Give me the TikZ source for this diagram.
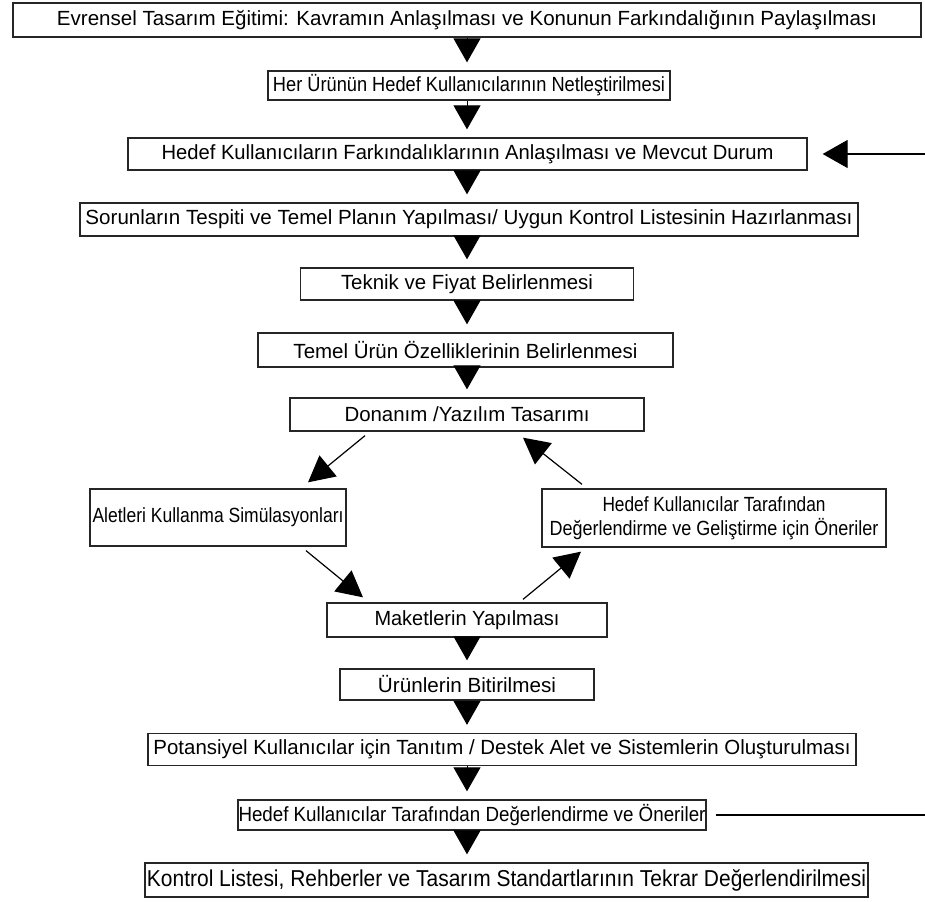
\documentclass[tikz,border=0pt]{standalone}
\usepackage{fontspec}
\setmainfont{Liberation Sans}
\usepackage{graphicx}
\usetikzlibrary{arrows.meta,calc}
\newcommand\fw[2]{\resizebox{#1pt}{\height}{#2}}
\begin{document}
\begin{tikzpicture}[x=1pt,y=-1pt,
  box/.style={draw=black!85, line width=1.3pt, fill=white, inner sep=0pt, align=center,
    font=\fontsize{20.5}{24}\selectfont},
  big/.style={font=\fontsize{23}{26}\selectfont},
  vtri/.style={-{Triangle[width=27pt,length=24pt]}, line width=1pt, shorten >=8pt},
  darr/.style={-{Triangle[width=27pt,length=26pt]}, line width=1.2pt},
  htri/.style={-{Triangle[width=28pt,length=25pt]}, line width=1.1pt, shorten >=15pt},
  plain/.style={line width=1.1pt}
]
\useasboundingbox (0,0) rectangle (925,901);
\fill[white] (0,0) rectangle (925,901);

\coordinate (axis) at (467,0);

\node[box, minimum width=908, minimum height=34] (b1) at (467,20)
  {\fw{820}{Evrensel Tasarım Eğitimi: Kavramın Anlaşılması ve Konunun Farkındalığının Paylaşılması}};
\node[box, minimum width=402, minimum height=29] (b2) at (469,85.5)
  {\fw{392}{Her Ürünün Hedef Kullanıcılarının Netleştirilmesi}};
\node[box, minimum width=679, minimum height=32] (b3) at (467.5,154)
  {\fw{612}{Hedef Kullanıcıların Farkındalıklarının Anlaşılması ve Mevcut Durum}};
\node[box, minimum width=778, minimum height=33] (b4) at (469,219.5)
  {\fw{767}{Sorunların Tespiti ve Temel Planın Yapılması/ Uygun Kontrol Listesinin Hazırlanması}};
\node[box, minimum width=333, minimum height=32] (b5) at (467,284)
  {\fw{252}{Teknik ve Fiyat Belirlenmesi}};
\node[box, minimum width=415, minimum height=34] (b6) at (465.5,350)
  {\fw{344}{Temel Ürün Özelliklerinin Belirlenmesi}};
\node[box, minimum width=354, minimum height=33] (b7) at (467,414.5)
  {\fw{245}{Donanım /Yazılım Tasarımı}};
\node[box, minimum width=256, minimum height=57] (b8) at (218,517.5)
  {\fw{251}{Aletleri Kullanma Simülasyonları}};
\node[box, minimum width=344, minimum height=58] (b9) at (714,518)
  {\fw{223}{Hedef Kullanıcılar Tarafından}\\\fw{329}{Değerlendirme ve Geliştirme için Öneriler}};
\node[box, minimum width=280, minimum height=34] (b10) at (467,620)
  {\fw{185}{Maketlerin Yapılması}};
\node[box, minimum width=254, minimum height=31] (b11) at (467,684.5)
  {\fw{178}{Ürünlerin Bitirilmesi}};
\node[box, minimum width=708, minimum height=32] (b12) at (502,749.5)
  {\fw{697}{Potansiyel Kullanıcılar için Tanıtım / Destek Alet ve Sistemlerin Oluşturulması}};
\node[box, minimum width=468, minimum height=30] (b13) at (472,815)
  {\fw{467}{Hedef Kullanıcılar Tarafından Değerlendirme ve Öneriler}};
\node[box, big, minimum width=723, minimum height=34] (b14) at (506.5,880)
  {\fw{719}{Kontrol Listesi, Rehberler ve Tasarım Standartlarının Tekrar Değerlendirilmesi}};

% vertical triangles
\draw[vtri] (b1.south -| axis) -- (b2.north -| axis);
\draw[vtri] (b2.south -| axis) -- (b3.north -| axis);
\draw[vtri] (b3.south -| axis) -- (b4.north -| axis);
\draw[vtri] (b4.south -| axis) -- (b5.north -| axis);
\draw[vtri] (b5.south -| axis) -- (b6.north -| axis);
\draw[vtri] (b6.south -| axis) -- (b7.north -| axis);
\draw[vtri] (b10.south -| axis) -- (b11.north -| axis);
\draw[vtri] (b11.south -| axis) -- (b12.north -| axis);
\draw[vtri] (b12.south -| axis) -- (b13.north -| axis);
\draw[vtri] (b13.south -| axis) -- (b14.north -| axis);

% loop arrows
\draw[darr] ($(b7.south)+(-102,4)$) -- ($(b8.north)+(90,-6)$);
\draw[darr] ($(b8.south)+(88,4)$) -- ($(b10.north)+(-104,-5)$);
\draw[darr] ($(b10.north)+(56,-3)$) -- ($(b9.south)+(-133,4)$);
\draw[darr] ($(b9.north)+(-132,-4)$) -- ($(b7.south)+(56,6)$);

% side feedback lines
\coordinate (r3) at (925,154);
\coordinate (r13) at (925,815);
\draw[htri] (r3) -- (b3.east);
\draw[plain] ([xshift=9pt]b13.east) -- (r13);
\end{tikzpicture}
\end{document}
